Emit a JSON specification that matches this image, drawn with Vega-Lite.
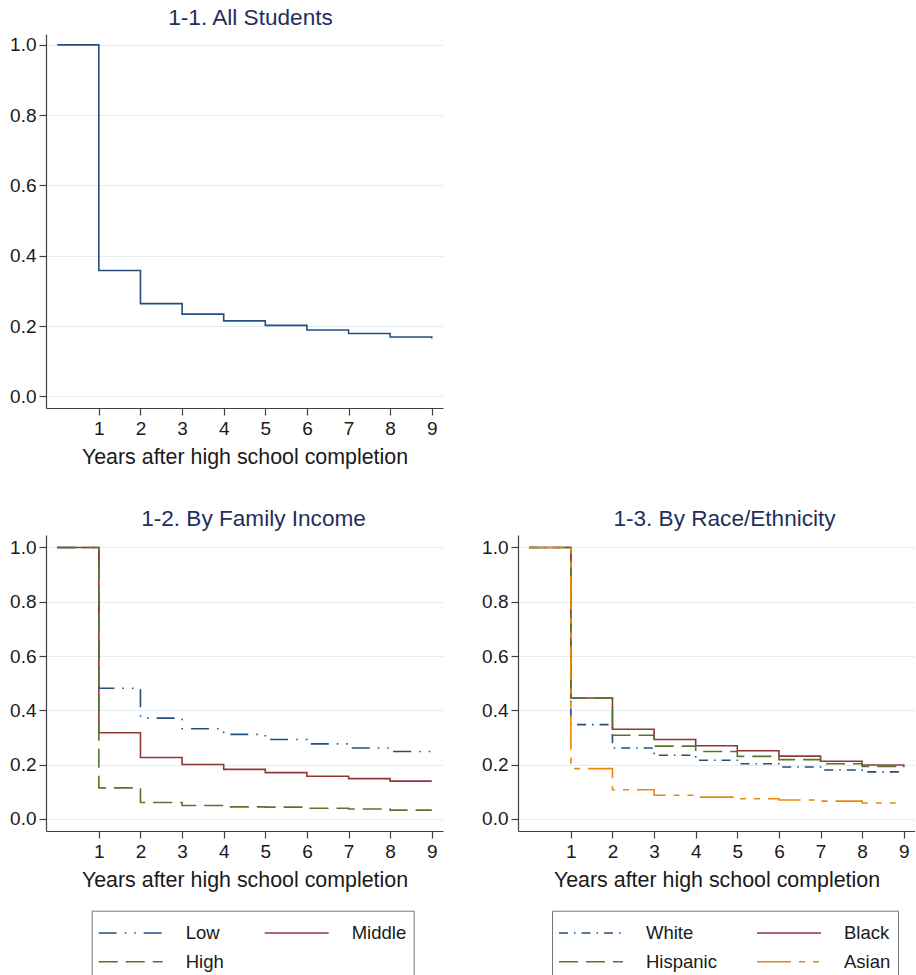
{
  "$schema": "https://vega.github.io/schema/vega-lite/v6.json",
  "background": "white",
  "padding": {"left": 9, "top": 7, "right": 0, "bottom": 0},
  "bounds": "flush",
  "spacing": 127,
  "datasets": {
    "all": [
      {"x": 0, "y": 1.0}, {"x": 1, "y": 0.358}, {"x": 2, "y": 0.264}, {"x": 3, "y": 0.234}, {"x": 4, "y": 0.215},
      {"x": 5, "y": 0.202}, {"x": 6, "y": 0.189}, {"x": 7, "y": 0.179}, {"x": 8, "y": 0.169}, {"x": 9, "y": 0.165}
    ],
    "income": [
      {"g": "Low", "x": 0, "y": 1.0}, {"g": "Low", "x": 1, "y": 0.481}, {"g": "Low", "x": 2, "y": 0.371}, {"g": "Low", "x": 3, "y": 0.332}, {"g": "Low", "x": 4, "y": 0.311},
      {"g": "Low", "x": 5, "y": 0.292}, {"g": "Low", "x": 6, "y": 0.276}, {"g": "Low", "x": 7, "y": 0.261}, {"g": "Low", "x": 8, "y": 0.248}, {"g": "Low", "x": 9, "y": 0.248},
      {"g": "Middle", "x": 0, "y": 1.0}, {"g": "Middle", "x": 1, "y": 0.317}, {"g": "Middle", "x": 2, "y": 0.226}, {"g": "Middle", "x": 3, "y": 0.2}, {"g": "Middle", "x": 4, "y": 0.182},
      {"g": "Middle", "x": 5, "y": 0.17}, {"g": "Middle", "x": 6, "y": 0.157}, {"g": "Middle", "x": 7, "y": 0.148}, {"g": "Middle", "x": 8, "y": 0.139}, {"g": "Middle", "x": 9, "y": 0.139},
      {"g": "High", "x": 0, "y": 1.0}, {"g": "High", "x": 1, "y": 0.114}, {"g": "High", "x": 2, "y": 0.06}, {"g": "High", "x": 3, "y": 0.049}, {"g": "High", "x": 4, "y": 0.044},
      {"g": "High", "x": 5, "y": 0.043}, {"g": "High", "x": 6, "y": 0.039}, {"g": "High", "x": 7, "y": 0.036}, {"g": "High", "x": 8, "y": 0.032}, {"g": "High", "x": 9, "y": 0.032}
    ],
    "race": [
      {"r": "White", "x": 0, "y": 1.0}, {"r": "White", "x": 1, "y": 0.347}, {"r": "White", "x": 2, "y": 0.261}, {"r": "White", "x": 3, "y": 0.234}, {"r": "White", "x": 4, "y": 0.216},
      {"r": "White", "x": 5, "y": 0.203}, {"r": "White", "x": 6, "y": 0.191}, {"r": "White", "x": 7, "y": 0.18}, {"r": "White", "x": 8, "y": 0.173}, {"r": "White", "x": 9, "y": 0.173},
      {"r": "Black", "x": 0, "y": 1.0}, {"r": "Black", "x": 1, "y": 0.445}, {"r": "Black", "x": 2, "y": 0.33}, {"r": "Black", "x": 3, "y": 0.292}, {"r": "Black", "x": 4, "y": 0.269},
      {"r": "Black", "x": 5, "y": 0.251}, {"r": "Black", "x": 6, "y": 0.231}, {"r": "Black", "x": 7, "y": 0.212}, {"r": "Black", "x": 8, "y": 0.198}, {"r": "Black", "x": 9, "y": 0.19},
      {"r": "Hispanic", "x": 0, "y": 1.0}, {"r": "Hispanic", "x": 1, "y": 0.445}, {"r": "Hispanic", "x": 2, "y": 0.308}, {"r": "Hispanic", "x": 3, "y": 0.268}, {"r": "Hispanic", "x": 4, "y": 0.248},
      {"r": "Hispanic", "x": 5, "y": 0.23}, {"r": "Hispanic", "x": 6, "y": 0.218}, {"r": "Hispanic", "x": 7, "y": 0.203}, {"r": "Hispanic", "x": 8, "y": 0.193}, {"r": "Hispanic", "x": 9, "y": 0.193},
      {"r": "Asian", "x": 0, "y": 1.0}, {"r": "Asian", "x": 1, "y": 0.185}, {"r": "Asian", "x": 2, "y": 0.107}, {"r": "Asian", "x": 3, "y": 0.087}, {"r": "Asian", "x": 4, "y": 0.08},
      {"r": "Asian", "x": 5, "y": 0.074}, {"r": "Asian", "x": 6, "y": 0.069}, {"r": "Asian", "x": 7, "y": 0.065}, {"r": "Asian", "x": 8, "y": 0.058}, {"r": "Asian", "x": 9, "y": 0.058}
    ]
  },
  "config": {
    "view": {"stroke": null},
    "font": "Liberation Sans",
    "axis": {
      "domainColor": "#404040", "domainWidth": 1.2, "tickColor": "#404040", "tickWidth": 1.2, "tickSize": 7,
      "labelFont": "Liberation Sans", "labelFontSize": 19, "labelColor": "#1a1a1a",
      "titleFont": "Liberation Sans", "titleFontSize": 21.4, "titleFontWeight": "normal", "titleColor": "#1a1a1a",
      "gridColor": "#e4edf0", "gridWidth": 1.2
    },
    "axisX": {"labelPadding": 4, "titlePadding": 8},
    "axisY": {"labelPadding": 3},
    "title": {"font": "Liberation Sans", "fontSize": 22.6, "fontWeight": "normal", "color": "#1f2f5c", "offset": 4, "anchor": "middle"},
    "legend": {"labelFont": "Liberation Sans", "labelFontSize": 18.5, "labelColor": "#1a1a1a"}
  },
  "vconcat": [
    {
      "width": 397, "height": 374,
      "title": {"text": "1-1. All Students", "dx": 6},
      "data": {"name": "all"},
      "mark": {"type": "line", "interpolate": "step-after", "strokeWidth": 1.6, "color": "#21507f"},
      "encoding": {
        "x": {"field": "x", "type": "quantitative", "scale": {"domain": [-0.27, 9.27], "nice": false, "zero": false},
              "axis": {"values": [1, 2, 3, 4, 5, 6, 7, 8, 9], "format": "d", "title": "Years after high school completion", "grid": false}},
        "y": {"field": "y", "type": "quantitative", "scale": {"domain": [-0.033, 1.031], "nice": false, "zero": false},
              "axis": {"values": [0, 0.2, 0.4, 0.6, 0.8, 1], "format": ".1f", "title": null, "grid": true}}
      }
    },
    {
      "hconcat": [
        {
          "width": 397, "height": 296,
          "title": {"text": "1-2. By Family Income", "dx": 9},
          "data": {"name": "income"},
          "mark": {"type": "line", "interpolate": "step-after", "strokeWidth": 1.6},
          "encoding": {
            "x": {"field": "x", "type": "quantitative", "scale": {"domain": [-0.27, 9.27], "nice": false, "zero": false},
                  "axis": {"values": [1, 2, 3, 4, 5, 6, 7, 8, 9], "format": "d", "title": "Years after high school completion", "grid": false}},
            "y": {"field": "y", "type": "quantitative", "scale": {"domain": [-0.045, 1.046], "nice": false, "zero": false},
                  "axis": {"values": [0, 0.2, 0.4, 0.6, 0.8, 1], "format": ".1f", "title": null, "grid": true}},
            "color": {"field": "g", "type": "nominal",
                      "scale": {"domain": ["Low", "Middle", "High"], "range": ["#21507f", "#90353b", "#55752f"]},
                      "legend": {"title": null, "orient": "none", "legendX": 45.7, "legendY": 375.7, "direction": "horizontal", "columns": 2,
                                 "columnPadding": 36, "rowPadding": 4, "symbolType": "M-1.0714,0H3.5", "symbolSize": 784, "symbolStrokeWidth": 1.6,
                                 "labelOffset": 57, "strokeColor": "#777777", "padding": 7, "gridAlign": "each"}},
            "strokeDash": {"field": "g", "type": "nominal",
                           "scale": {"domain": ["Low", "Middle", "High"], "range": [[18, 8, 1.5, 8, 1.5, 8], [1, 0], [19, 8]]},
                           "legend": {"title": null, "orient": "none", "legendX": 45.7, "legendY": 375.7, "direction": "horizontal", "columns": 2,
                                      "columnPadding": 36, "rowPadding": 4, "symbolType": "M-1.0714,0H3.5", "symbolSize": 784, "symbolStrokeWidth": 1.6,
                                      "labelOffset": 57, "strokeColor": "#777777", "padding": 7, "gridAlign": "each"}}
          }
        },
        {
          "width": 397, "height": 296,
          "title": {"text": "1-3. By Race/Ethnicity", "dx": 8},
          "data": {"name": "race"},
          "mark": {"type": "line", "interpolate": "step-after", "strokeWidth": 1.6},
          "encoding": {
            "x": {"field": "x", "type": "quantitative", "scale": {"domain": [-0.27, 9.27], "nice": false, "zero": false},
                  "axis": {"values": [1, 2, 3, 4, 5, 6, 7, 8, 9], "format": "d", "title": "Years after high school completion", "grid": false}},
            "y": {"field": "y", "type": "quantitative", "scale": {"domain": [-0.045, 1.046], "nice": false, "zero": false},
                  "axis": {"values": [0, 0.2, 0.4, 0.6, 0.8, 1], "format": ".1f", "title": null, "grid": true}},
            "color": {"field": "r", "type": "nominal",
                      "scale": {"domain": ["White", "Black", "Hispanic", "Asian"], "range": ["#21507f", "#90353b", "#55752f", "#e8890c"]},
                      "legend": {"title": null, "orient": "none", "legendX": 34, "legendY": 375.7, "direction": "horizontal", "columns": 2,
                                 "columnPadding": 36, "rowPadding": 4, "symbolType": "M-1.0714,0H3.5", "symbolSize": 784, "symbolStrokeWidth": 1.6,
                                 "labelOffset": 57, "strokeColor": "#777777", "padding": 7, "gridAlign": "each"}},
            "strokeDash": {"field": "r", "type": "nominal",
                           "scale": {"domain": ["White", "Black", "Hispanic", "Asian"], "range": [[9, 6, 1.5, 6], [1, 0], [19, 8], [34, 8, 6, 8, 6, 8]]},
                           "legend": {"title": null, "orient": "none", "legendX": 34, "legendY": 375.7, "direction": "horizontal", "columns": 2,
                                      "columnPadding": 36, "rowPadding": 4, "symbolType": "M-1.0714,0H3.5", "symbolSize": 784, "symbolStrokeWidth": 1.6,
                                      "labelOffset": 57, "strokeColor": "#777777", "padding": 7, "gridAlign": "each"}}
          }
        }
      ],
      "spacing": 75,
      "bounds": "flush",
      "resolve": {"scale": {"color": "independent", "strokeDash": "independent"}, "legend": {"color": "independent", "strokeDash": "independent"}}
    }
  ]
}
